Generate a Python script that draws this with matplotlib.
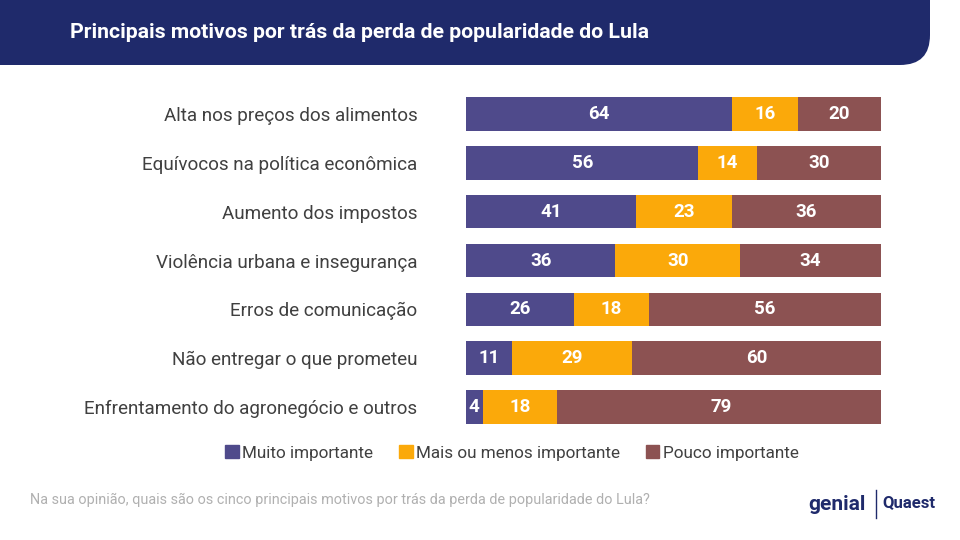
import matplotlib
matplotlib.use("Agg")
import matplotlib.pyplot as plt
from matplotlib.patches import FancyBboxPatch, Patch

categories = ["Alta nos preços dos alimentos", "Equívocos na política econômica",
              "Aumento dos impostos", "Violência urbana e insegurança",
              "Erros de comunicação", "Não entregar o que prometeu",
              "Enfrentamento do agronegócio e outros"]
muito = [64, 56, 41, 36, 26, 11, 4]
mais_menos = [16, 14, 23, 30, 18, 29, 18]
pouco = [20, 30, 36, 34, 56, 60, 79]
series_names = ["Muito importante", "Mais ou menos importante", "Pouco importante"]
colors = ["#4f4a8b", "#fba90a", "#8c5252"]

plt.rcParams['font.family'] = ['Roboto', 'DejaVu Sans']
fig = plt.figure(figsize=(9.6, 5.4), dpi=100)
fig.patch.set_facecolor("white")

bg = fig.add_axes([0, 0, 1, 1]); bg.set_xlim(0, 960); bg.set_ylim(540, 0); bg.axis("off")
bg.add_patch(FancyBboxPatch((-40, -40), 970, 105, boxstyle="round,pad=0,rounding_size=30",
                            fc="#1f2a6b", ec="none"))
bg.text(70, 32, "Principais motivos por trás da perda de popularidade do Lula", color="white",
        fontsize=15.3, fontweight="bold", va="center")
bg.text(30, 500, "Na sua opinião, quais são os cinco principais motivos por trás da perda de popularidade do Lula?",
        color="#b0b0b0", fontsize=10.4, va="center")
bg.text(808, 505, "genial", color="#1f2a6b", fontsize=15, fontweight="bold", va="center")
bg.plot([876, 876], [490, 518], color="#1f2a6b", lw=1)
bg.text(882, 503, "Quaest", color="#1f2a6b", fontsize=12, fontweight="bold", va="center")

ax = fig.add_axes([466/960, 1-431.5/540, 415/960, 342/540])
y = list(range(len(categories)))
left = [0]*len(categories)
for vals, c in zip([muito, mais_menos, pouco], colors):
    ax.barh(y, vals, left=left, color=c, height=0.69)
    for i, v in enumerate(vals):
        ax.text(left[i] + v/2, i, str(v), color="white", fontsize=13.5, fontweight="bold",
                ha="center", va="center")
    left = [l + v for l, v in zip(left, vals)]
ax.set_xlim(0, 100)
ax.set_ylim(len(categories) - 0.5, -0.5)
ax.set_yticks(y)
ax.set_yticklabels(categories, fontsize=13.6, color="#404040")
ax.tick_params(axis="y", length=0, pad=35)
ax.set_xticks([])
for s in ax.spines.values():
    s.set_visible(False)

handles = [Patch(color=c) for c in colors]
fig.legend(handles, series_names, loc="center", bbox_to_anchor=(512/960, 1-453/540), ncol=3,
           frameon=False, fontsize=12.3, handlelength=0.8, handleheight=0.8,
           handletextpad=0.2, columnspacing=1.5, labelcolor="#404040")
fig.savefig("out.png", dpi=100)
